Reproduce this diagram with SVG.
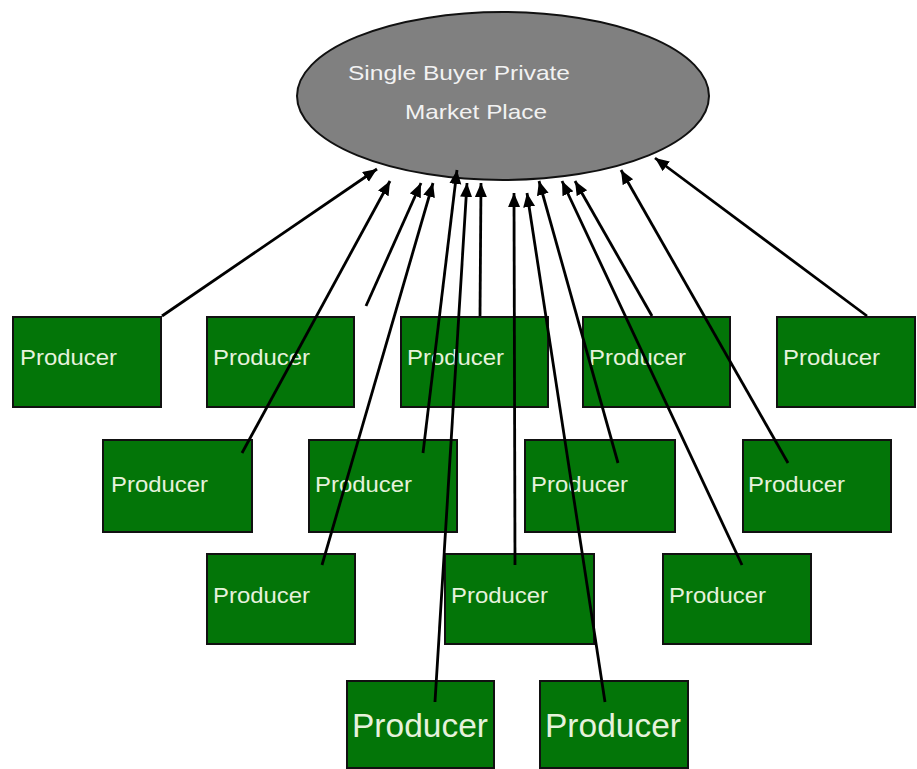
<svg xmlns="http://www.w3.org/2000/svg" width="917" height="769" viewBox="0 0 917 769">
  <style>
    .box { fill: #037508; stroke: #111; stroke-width: 2; }
    .lbl { font-family: "Liberation Sans", Arial, sans-serif; font-size: 22px; fill: #e6f2dc; }
    .big { font-size: 33px; }
    .hub { fill: #808080; stroke: #111; stroke-width: 2; }
    .hubtxt { font-family: "Liberation Sans", Arial, sans-serif; font-size: 21px; fill: #f2f2f2; }
    .conn line { stroke: #000; stroke-width: 2.8; marker-end: url(#arrow); }
  </style>
  <defs>
    <marker id="arrow" markerUnits="userSpaceOnUse" markerWidth="16" markerHeight="14" refX="14" refY="6" orient="auto">
      <path d="M0,0 L14,6 L0,12 z" fill="#000"/>
    </marker>
  </defs>
  <rect width="917" height="769" fill="#fff"/>

  <g id="marketplace">
    <ellipse class="hub" cx="503" cy="96" rx="206" ry="84"/>
    <text class="hubtxt" x="348" y="80" textLength="222" lengthAdjust="spacingAndGlyphs">Single Buyer Private</text>
    <text class="hubtxt" x="405" y="119" textLength="142" lengthAdjust="spacingAndGlyphs">Market Place</text>
  </g>

  <!-- row 1 -->
  <g id="producer-a"><rect class="box" x="13" y="317" width="148" height="90"/><text class="lbl" x="20" y="365" textLength="97" lengthAdjust="spacingAndGlyphs">Producer</text></g>
  <g id="producer-b"><rect class="box" x="207" y="317" width="147" height="90"/><text class="lbl" x="213" y="365" textLength="97" lengthAdjust="spacingAndGlyphs">Producer</text></g>
  <g id="producer-c"><rect class="box" x="401" y="317" width="147" height="90"/><text class="lbl" x="407" y="365" textLength="97" lengthAdjust="spacingAndGlyphs">Producer</text></g>
  <g id="producer-d"><rect class="box" x="583" y="317" width="147" height="90"/><text class="lbl" x="589" y="365" textLength="97" lengthAdjust="spacingAndGlyphs">Producer</text></g>
  <g id="producer-e"><rect class="box" x="777" y="317" width="138" height="90"/><text class="lbl" x="783" y="365" textLength="97" lengthAdjust="spacingAndGlyphs">Producer</text></g>

  <!-- row 2 -->
  <g id="producer-f"><rect class="box" x="103" y="440" width="149" height="92"/><text class="lbl" x="111" y="492" textLength="97" lengthAdjust="spacingAndGlyphs">Producer</text></g>
  <g id="producer-g"><rect class="box" x="309" y="440" width="148" height="92"/><text class="lbl" x="315" y="492" textLength="97" lengthAdjust="spacingAndGlyphs">Producer</text></g>
  <g id="producer-h"><rect class="box" x="525" y="440" width="150" height="92"/><text class="lbl" x="531" y="492" textLength="97" lengthAdjust="spacingAndGlyphs">Producer</text></g>
  <g id="producer-i"><rect class="box" x="743" y="440" width="148" height="92"/><text class="lbl" x="748" y="492" textLength="97" lengthAdjust="spacingAndGlyphs">Producer</text></g>

  <!-- row 3 -->
  <g id="producer-j"><rect class="box" x="207" y="554" width="148" height="90"/><text class="lbl" x="213" y="603" textLength="97" lengthAdjust="spacingAndGlyphs">Producer</text></g>
  <g id="producer-k"><rect class="box" x="445" y="554" width="149" height="90"/><text class="lbl" x="451" y="603" textLength="97" lengthAdjust="spacingAndGlyphs">Producer</text></g>
  <g id="producer-l"><rect class="box" x="663" y="554" width="148" height="90"/><text class="lbl" x="669" y="603" textLength="97" lengthAdjust="spacingAndGlyphs">Producer</text></g>

  <!-- row 4 -->
  <g id="producer-m"><rect class="box" x="347" y="681" width="147" height="87"/><text class="lbl big" x="352" y="737" textLength="136" lengthAdjust="spacingAndGlyphs">Producer</text></g>
  <g id="producer-n"><rect class="box" x="540" y="681" width="148" height="87"/><text class="lbl big" x="545" y="737" textLength="136" lengthAdjust="spacingAndGlyphs">Producer</text></g>

  <g id="connectors" class="conn">
    <line x1="162" y1="316" x2="377" y2="169"/>
    <line x1="242" y1="453" x2="390" y2="181"/>
    <line x1="366" y1="306" x2="421" y2="183"/>
    <line x1="322" y1="565" x2="433" y2="183"/>
    <line x1="423" y1="453" x2="457" y2="170"/>
    <line x1="435" y1="702" x2="467" y2="183"/>
    <line x1="480" y1="316" x2="481" y2="183"/>
    <line x1="515" y1="565" x2="514" y2="193"/>
    <line x1="605" y1="702" x2="527" y2="193"/>
    <line x1="618" y1="463" x2="539" y2="181"/>
    <line x1="742" y1="565" x2="562" y2="181"/>
    <line x1="652" y1="316" x2="575" y2="181"/>
    <line x1="788" y1="463" x2="621" y2="170"/>
    <line x1="867" y1="316" x2="655" y2="158"/>
  </g>
</svg>
